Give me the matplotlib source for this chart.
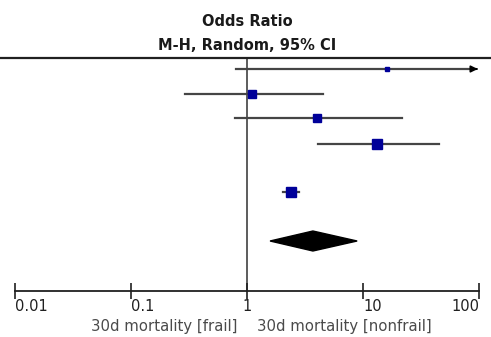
import matplotlib
matplotlib.use("Agg")
import matplotlib.pyplot as plt
import numpy as np
from matplotlib.patches import Polygon

# ---- data (odds ratios, 95% CI) ----
or_est = [16.0, 1.10, 4.0, 13.2, 2.4]
ci_low = [0.80, 0.29, 0.79, 4.1, 2.04]
ci_high = [150.0, 4.5, 21.7, 45.0, 2.81]
marker_sizes = [3.0, 6.0, 5.5, 6.5, 7.0]
pooled_or = 3.7
pooled_low = 1.58
pooled_high = 8.9
tick_values = [0.01, 0.1, 1, 10, 100]
tick_labels = ["0.01", "0.1", "1", "10", "100"]
left_label = "30d mortality [frail]"
right_label = "30d mortality [nonfrail]"
title_lines = ["Odds Ratio", "M-H, Random, 95% CI"]

# ---- layout ----
row_y = [69, 94, 118, 144, 192]
pooled_y = 241
axis_y = 291
top_line_y = 58
W, H = 491, 337
px_per_dec = 116.0
x_one = 247.0

fig = plt.figure(figsize=(W / 100, H / 100), dpi=100)
ax = fig.add_axes([0, 0, 1, 1])
ax.set_xscale("log")
ax.set_xlim(10 ** ((0 - x_one) / px_per_dec), 10 ** ((W - x_one) / px_per_dec))
ax.set_ylim(H, 0)

line_col = "#454545"
box_col = "#000099"
xmax_axis = 100.0

for y, m, lo, hi, ms in zip(row_y, or_est, ci_low, ci_high, marker_sizes):
    if hi > xmax_axis:
        ax.plot([lo, xmax_axis * 0.93], [y, y], color=line_col, lw=1.6, zorder=2)
        ax.annotate("", xy=(xmax_axis * 1.03, y), xytext=(xmax_axis * 0.9, y),
                    arrowprops=dict(arrowstyle="-|>", color="black", lw=1.2,
                                    mutation_scale=10), zorder=3)
    else:
        ax.plot([lo, hi], [y, y], color=line_col, lw=1.6, zorder=2)
    ax.plot([m], [y], marker="s", ms=ms, color=box_col, mec=box_col, zorder=4)

diamond = Polygon([(pooled_low, pooled_y), (pooled_or, pooled_y - 10),
                   (pooled_high, pooled_y), (pooled_or, pooled_y + 10)],
                  closed=True, facecolor="black", edgecolor="black", zorder=4)
ax.add_patch(diamond)

# line of no effect
ax.plot([1, 1], [top_line_y, axis_y], color="#303030", lw=1.1, zorder=1)
# top rule
ax.axhline(top_line_y, color="#202020", lw=1.6, zorder=1)

# bottom axis via spine
for s in ["top", "left", "right"]:
    ax.spines[s].set_visible(False)
ax.spines["bottom"].set_position(("data", axis_y))
ax.spines["bottom"].set_bounds(tick_values[0], tick_values[-1])
ax.spines["bottom"].set_linewidth(1.3)
ax.spines["bottom"].set_color("#202020")
ax.set_xticks(tick_values)
ax.set_xticklabels(tick_labels)
ax.xaxis.set_minor_locator(matplotlib.ticker.NullLocator())
ax.tick_params(axis="x", direction="inout", length=11, width=1.2, color="#202020",
               labelsize=10.5, pad=0, labelcolor="#202020")
aligns = ["left", "left", "center", "left", "right"]
for lab, al in zip(ax.get_xticklabels(), aligns):
    lab.set_horizontalalignment(al)
ax.set_yticks([])

# titles
ax.text(1, 21, title_lines[0], ha="center", va="center", fontsize=10.5,
        fontweight="bold", color="#1a1a1a")
ax.text(1, 46, title_lines[1], ha="center", va="center", fontsize=10.5,
        fontweight="bold", color="#1a1a1a")

ax.text(10 ** (-10 / px_per_dec), 326, left_label, ha="right", va="center",
        fontsize=10.7, color="#4a4a4a")
ax.text(10 ** (10 / px_per_dec), 326, right_label, ha="left", va="center",
        fontsize=10.7, color="#4a4a4a")

fig.savefig("out.png", dpi=100)
